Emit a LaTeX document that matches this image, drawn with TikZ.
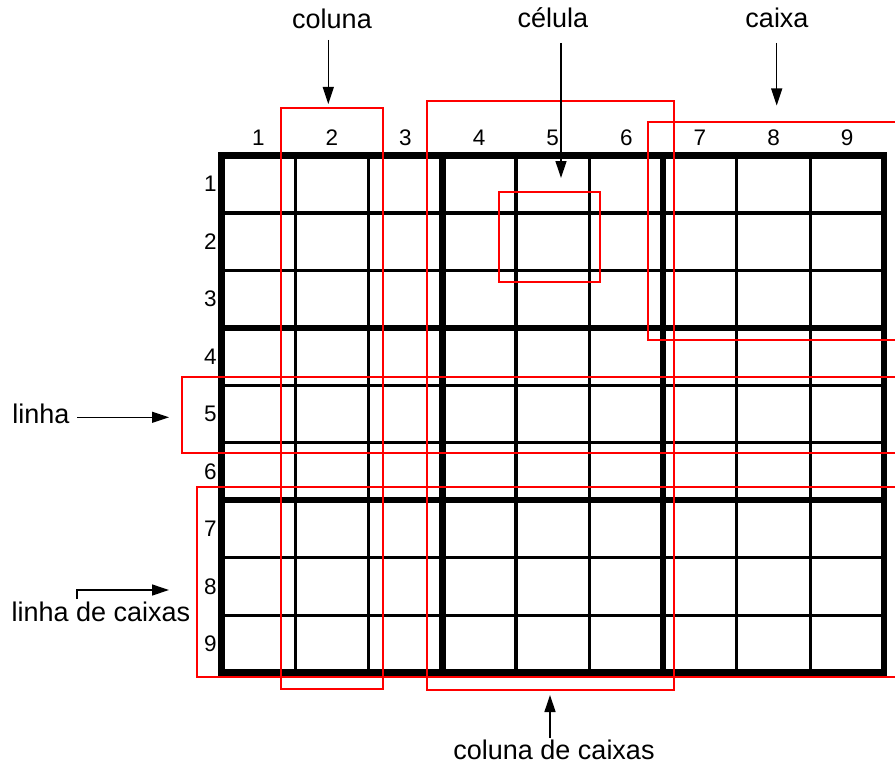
\documentclass[tikz,border=0pt]{standalone}
\usepackage{fontspec}
\setmainfont{Liberation Sans}
\usetikzlibrary{arrows.meta}
\begin{document}
\begin{tikzpicture}[x=1pt,y=-1pt,
  thinline/.style={line width=3.2pt,black},
  thickline/.style={line width=6.5pt,black,line cap=rect},
  redbox/.style={line width=2pt,draw={rgb,255:red,255;green,0;blue,0}},
  arr/.style={line width=1.3pt,-{Triangle[width=11pt,length=17pt]}},
  word/.style={inner sep=0pt,anchor=base,font=\fontsize{27}{32}\selectfont},
  digit/.style={inner sep=0pt,anchor=center,font=\fontsize{22.5}{27}\selectfont}]
\useasboundingbox (0,0) rectangle (895,768);
\def\gx{221.5}\def\gy{155.5}\def\cw{73.6}\def\ch{57.45}
% thin lines
\foreach \i in {1,2,4,5,7,8} {
  \draw[thinline] (\gx+\i*\cw,\gy) -- (\gx+\i*\cw,\gy+9*\ch);
  \draw[thinline] (\gx,\gy+\i*\ch) -- (\gx+9*\cw,\gy+\i*\ch);
}
% thick lines
\foreach \i in {3,6} {
  \draw[thickline] (\gx+\i*\cw,\gy) -- (\gx+\i*\cw,\gy+9*\ch);
  \draw[thickline] (\gx,\gy+\i*\ch) -- (\gx+9*\cw,\gy+\i*\ch);
}
\draw[line width=6.5pt,black] (\gx,\gy) rectangle (\gx+9*\cw,\gy+9*\ch);
% labels of columns and rows
\foreach \i in {1,...,9} {
  \node[digit] (c\i) at (\gx+\i*\cw-0.5*\cw,138) {\i};
  \node[digit] (r\i) at (210.5,\gy+\i*\ch-0.5*\ch) {\i};
}
% red boxes
\draw[redbox] (281.3,108.3) rectangle (382.7,689);
\draw[redbox] (426.7,100.7) rectangle (674,690);
\draw[redbox] (498.5,192) rectangle (600,282);
\draw[redbox] (896,121.7) -- (647.7,121.7) -- (647.7,340.3) -- (896,340.3);
\draw[redbox] (896,376.7) -- (181.6,376.7) -- (181.6,452.7) -- (896,452.7);
\draw[redbox] (896,486.7) -- (196.7,486.7) -- (196.7,677) -- (896,677);
% text labels
\node[word] (coluna) at (332,29) {coluna};
\node[word] (celula) at (553,28) {célula};
\node[word] (caixa) at (777,28) {caixa};
\node[word] (linha) at (41,423) {linha};
\node[word] (linhacx) at (101,621.5) {linha de caixas};
\node[word] (colunacx) at (554,759) {coluna de caixas};
% arrows
\coordinate (a1s) at (328.3,40);  \coordinate (a1e) at (328.3,104);
\coordinate (a2s) at (561,43);    \coordinate (a2e) at (561,178);
\coordinate (a3s) at (776.7,43);  \coordinate (a3e) at (776.7,105.5);
\coordinate (a4s) at (77,417.3);  \coordinate (a4e) at (169,417.3);
\coordinate (a5s) at (77,599);    \coordinate (a5m) at (77,590); \coordinate (a5e) at (169,590);
\coordinate (a6s) at (550,738);   \coordinate (a6e) at (550,695);
\draw[arr] (a1s) -- (a1e);
\draw[arr] (a2s) -- (a2e);
\draw[arr] (a3s) -- (a3e);
\draw[arr] (a4s) -- (a4e);
\draw[arr] (a5s) -- (a5m) -- (a5e);
\draw[arr] (a6s) -- (a6e);
\end{tikzpicture}
\end{document}
